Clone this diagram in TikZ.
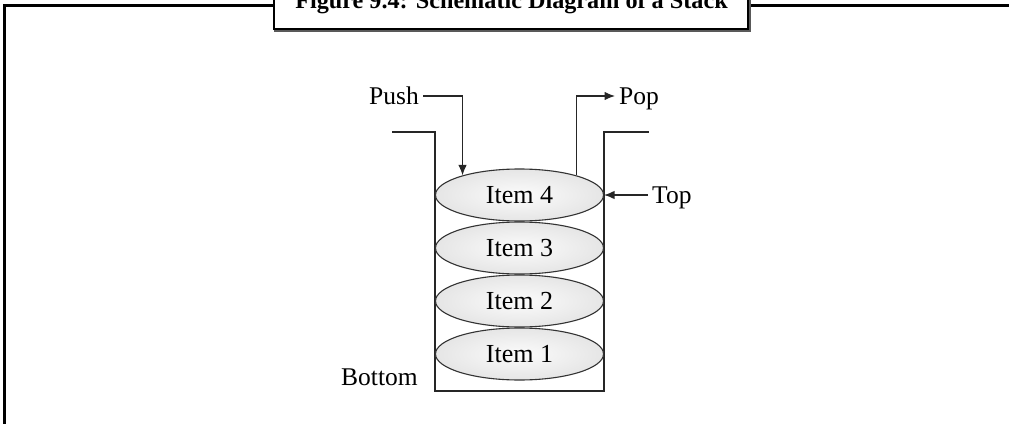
\documentclass[tikz,border=0pt]{standalone}
\usepackage{fontspec}
\setmainfont{Liberation Serif}
\usetikzlibrary{shapes.geometric,arrows.meta}
\begin{document}
\begin{tikzpicture}[x=1pt,y=-1pt,
  lbl/.style={inner xsep=4pt, inner ysep=0pt, font=\fontsize{25.5}{28}\selectfont, text height=20pt, text depth=4pt},
  item/.style={ellipse, draw=black!80, line width=1.1pt, minimum width=168pt, minimum height=52pt, inner sep=0pt,
               inner color=gray!3, outer color=gray!20, font=\fontsize{26}{28}\selectfont},
  wire/.style={draw=black!85, line width=1.2pt},
  arr/.style={wire, -{Latex[length=10.5pt,width=8.5pt]}},
  frameline/.style={line width=3pt, black}]
\useasboundingbox (0,0) rectangle (1009,423);
\clip (0,0) rectangle (1009,423);
% outer frame
\draw[frameline] (4.8,430) -- (4.8,5.3) -- (280,5.3);
\draw[frameline] (740,5.3) -- (1015,5.3);
% title box with shadow
\draw[line width=2.6pt, black!65] (275.5,-10) rectangle (749.5,30.5);
\draw[line width=2.6pt, black, fill=white] (274,-10) rectangle (748,29);
\node[font=\fontsize{24.2}{28}\selectfont\bfseries, anchor=base, inner sep=0pt] (title) at (511.5,8.5) {Figure 9.4: Schematic Diagram of a Stack};
% stack walls
\draw[wire] (392,132) -- (435,132) -- (435,391) -- (604,391) -- (604,132) -- (649,132);
% items
\node[item] (i4) at (519.5,195) {Item 4};
\node[item] (i3) at (519.5,248) {Item 3};
\node[item] (i2) at (519.5,301) {Item 2};
\node[item] (i1) at (519.5,354) {Item 1};
% labels
\node[lbl, anchor=east] (push) at (423,96) {Push};
\node[lbl, anchor=west] (pop) at (615,96) {Pop};
\node[lbl, anchor=west] (top) at (648,195) {Top};
\node[lbl, anchor=base west] (bottom) at (337,385) {Bottom};
% connectors
\draw[arr] (push.east) -| (i4.161);
\draw[arr] (i4.19) |- (pop.west);
\draw[arr] (top.west) -- (i4.east);
\end{tikzpicture}
\end{document}
